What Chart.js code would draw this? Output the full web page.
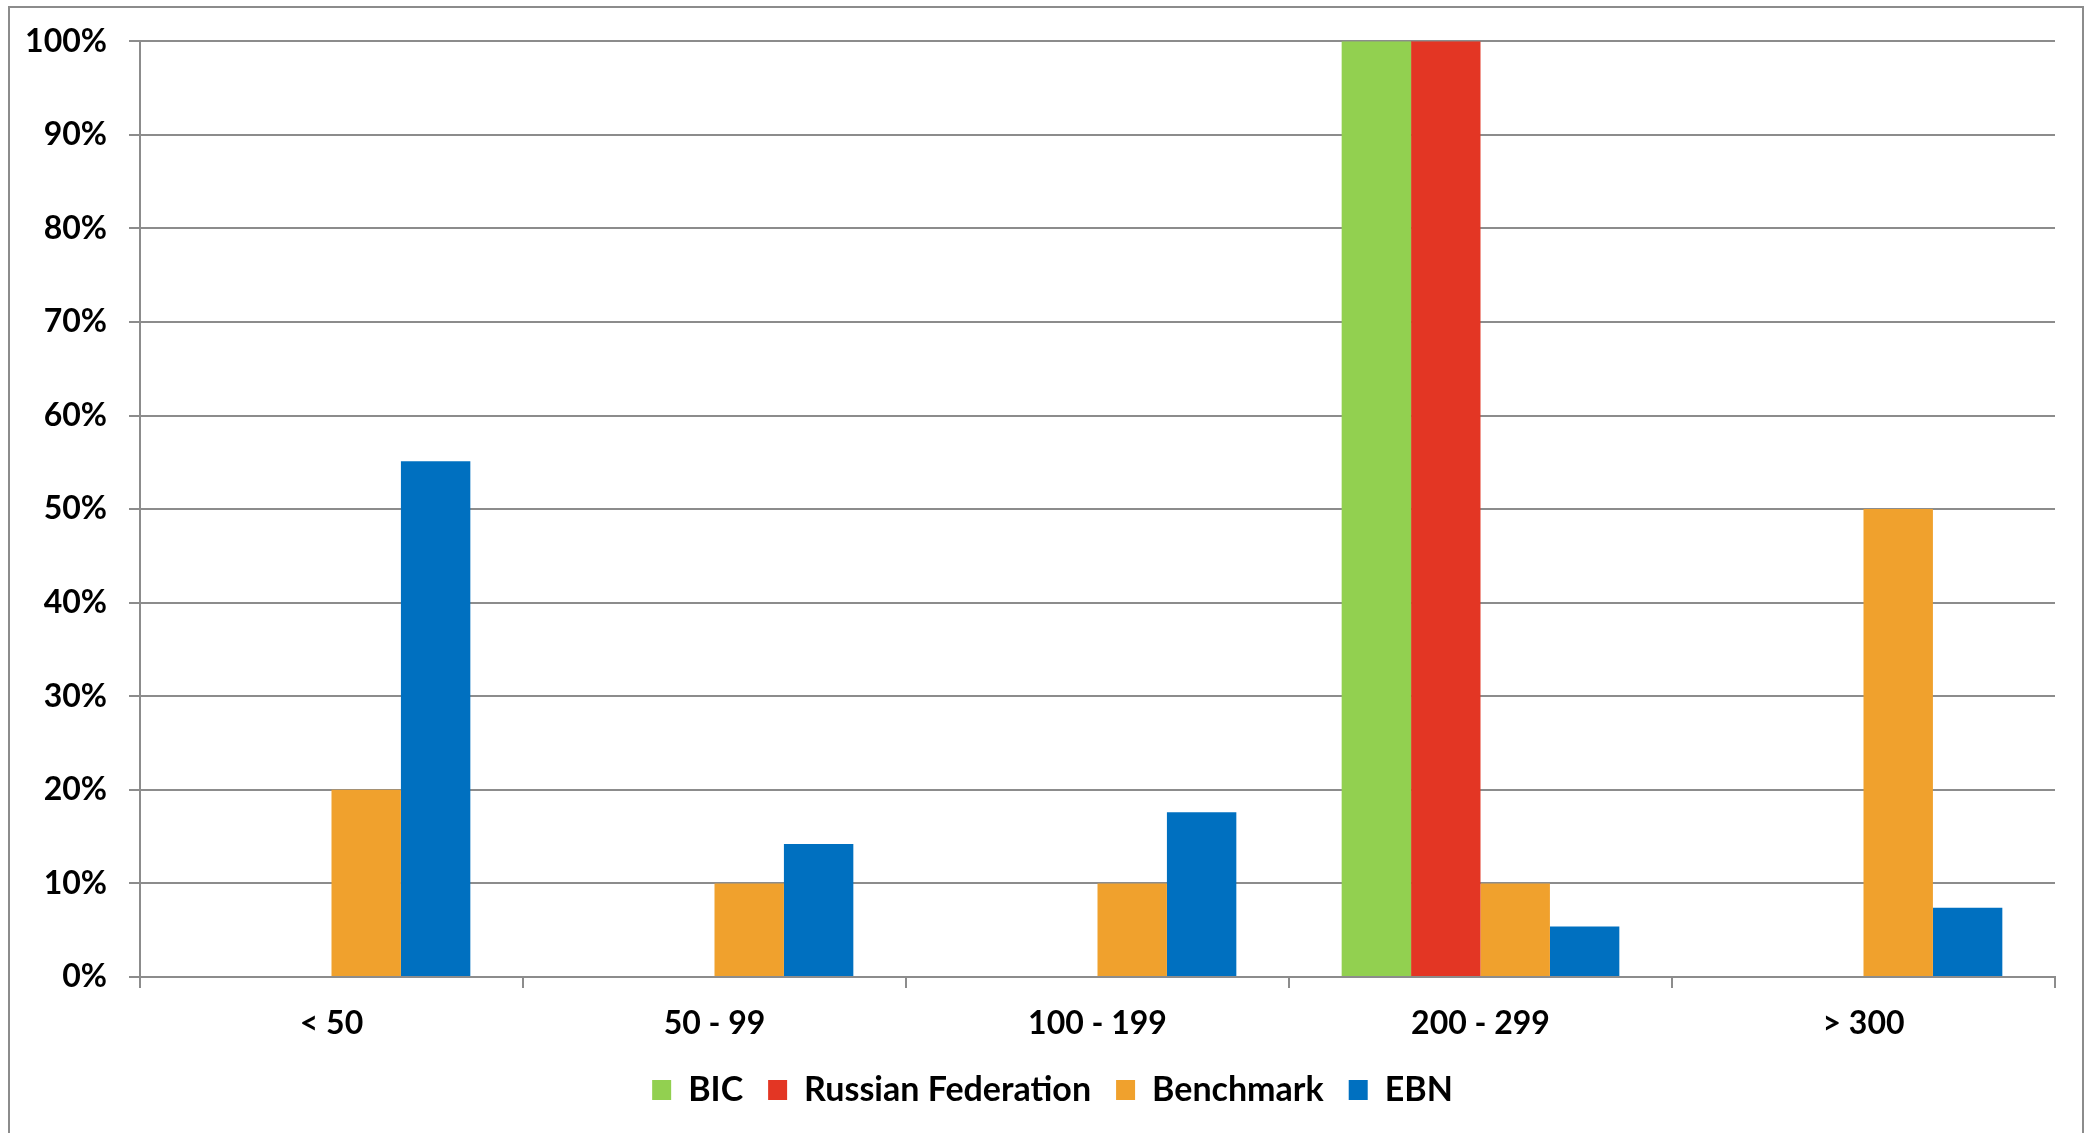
<!DOCTYPE html>
<html>
<head>
<meta charset="utf-8">
<script src="https://cdn.jsdelivr.net/npm/chart.js@4/dist/chart.umd.min.js"></script>
<style>
  html, body { margin: 0; padding: 0; background: #fff; width: 2095px; height: 1133px; overflow: hidden; }
  #frame { position: absolute; left: 8px; top: 6px; width: 2072px; height: 1140px; border: 2px solid #8c8c8c; border-bottom: none; }
  #wrap { position: absolute; left: 0; top: 0; width: 2095px; height: 1133px; }
</style>
</head>
<body>
<div id="frame"></div>
<div id="wrap"><canvas id="c" width="2095" height="1133"></canvas></div>
<script>
const categories = ['< 50', '50 - 99', '100 - 199', '200 - 299', '> 300'];
const seriesNames = ['BIC', 'Russian Federation', 'Benchmark', 'EBN'];
const bicValues = [0, 0, 0, 100, 0];
const russiaValues = [0, 0, 0, 100, 0];
const benchmarkValues = [20, 10, 10, 10, 50];
const ebnValues = [55.1, 14.2, 17.6, 5.4, 7.4];
const yTickValues = [0, 10, 20, 30, 40, 50, 60, 70, 80, 90, 100];
const colors = ['#92D050', '#E33624', '#F0A12D', '#0070C0'];

const gridColor = '#8c8c8c';
const axisFont = { family: 'Lato, "Open Sans", sans-serif', size: 32, weight: 'bold' };
const legendFont = { family: 'Lato, "Open Sans", sans-serif', size: 34, weight: 'bold' };

const allSeries = [bicValues, russiaValues, benchmarkValues, ebnValues];

const legendShift = {
  id: 'legendShift',
  afterLayout(chart) {
    if (chart.legend) {
      chart.legend.left += 25;
      chart.legend.right += 25;
    }
  }
};

new Chart(document.getElementById('c'), {
  type: 'bar',
  data: {
    labels: categories,
    datasets: allSeries.map((vals, i) => ({
      label: seriesNames[i],
      data: vals,
      backgroundColor: colors[i],
      borderWidth: 0,
      categoryPercentage: 0.725,
      barPercentage: 1.0
    }))
  },
  plugins: [legendShift],
  options: {
    responsive: false,
    animation: false,
    devicePixelRatio: 1,
    layout: { padding: { left: 0, top: 41, right: 40, bottom: 16 } },
    plugins: {
      tooltip: { enabled: false },
      legend: {
        position: 'bottom',
        labels: {
          font: legendFont,
          color: '#000',
          boxWidth: 19,
          boxHeight: 20,
          padding: 25
        }
      }
    },
    scales: {
      x: {
        offset: true,
        grid: {
          display: true,
          drawOnChartArea: false,
          drawTicks: true,
          tickLength: 11,
          color: gridColor,
          lineWidth: 2
        },
        border: { display: true, color: gridColor, width: 2 },
        ticks: { font: axisFont, color: '#000', padding: 16, maxRotation: 0 },
        afterFit: (s) => { s.height = 71; }
      },
      y: {
        min: 0,
        max: 100,
        afterBuildTicks: (s) => { s.ticks = yTickValues.map(v => ({ value: v })); },
        grid: {
          color: gridColor,
          lineWidth: 2,
          drawTicks: true,
          tickLength: 11
        },
        border: { display: true, color: gridColor, width: 2 },
        ticks: {
          font: axisFont,
          color: '#000',
          padding: 22,
          callback: (v) => v + '%'
        },
        afterFit: (s) => { s.width = 140; }
      }
    }
  }
});
</script>
</body>
</html>
